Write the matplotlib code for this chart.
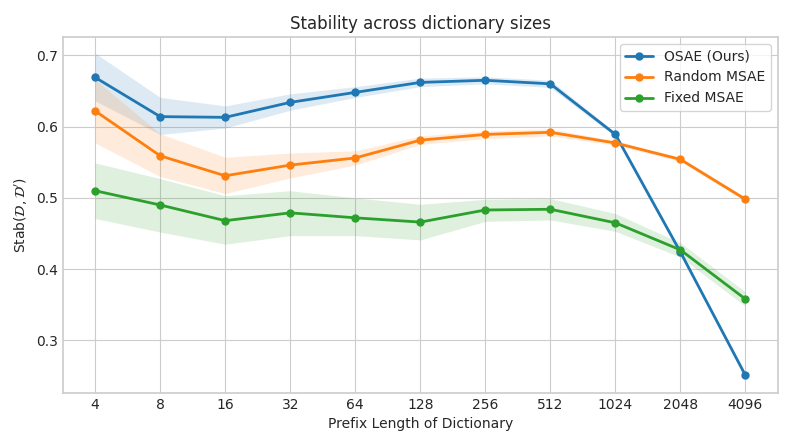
import matplotlib
matplotlib.use("Agg")
import matplotlib.pyplot as plt
import numpy as np

prefix_lengths = ["4", "8", "16", "32", "64", "128", "256", "512", "1024", "2048", "4096"]

osae_mean = [0.669, 0.614, 0.613, 0.634, 0.648, 0.662, 0.665, 0.660, 0.589, 0.424, 0.251]
osae_low = [0.636, 0.589, 0.598, 0.623, 0.641, 0.656, 0.660, 0.655, 0.586, 0.421, 0.249]
osae_high = [0.703, 0.641, 0.629, 0.646, 0.656, 0.668, 0.670, 0.665, 0.592, 0.427, 0.253]

rand_mean = [0.622, 0.559, 0.531, 0.546, 0.556, 0.581, 0.589, 0.592, 0.577, 0.554, 0.498]
rand_low = [0.577, 0.530, 0.506, 0.528, 0.546, 0.575, 0.583, 0.587, 0.574, 0.551, 0.495]
rand_high = [0.666, 0.590, 0.557, 0.563, 0.566, 0.587, 0.594, 0.597, 0.580, 0.557, 0.501]

fixed_mean = [0.510, 0.490, 0.468, 0.479, 0.472, 0.466, 0.483, 0.484, 0.465, 0.427, 0.358]
fixed_low = [0.471, 0.452, 0.435, 0.447, 0.447, 0.441, 0.467, 0.469, 0.453, 0.417, 0.348]
fixed_high = [0.549, 0.527, 0.503, 0.510, 0.500, 0.491, 0.498, 0.499, 0.478, 0.437, 0.368]

plt.style.use("seaborn-v0_8-whitegrid")
plt.rcParams["font.family"] = ["DejaVu Sans"]
plt.rcParams["axes.edgecolor"] = "0.8"
plt.rcParams["axes.linewidth"] = 1.2

fig, ax = plt.subplots(figsize=(7.93, 4.46), dpi=100)
x = np.arange(len(prefix_lengths))

series = [
    ("OSAE (Ours)", osae_mean, osae_low, osae_high, "#1f77b4"),
    ("Random MSAE", rand_mean, rand_low, rand_high, "#ff7f0e"),
    ("Fixed MSAE", fixed_mean, fixed_low, fixed_high, "#2ca02c"),
]
for label, mean, low, high, color in series:
    ax.plot(x, mean, marker="o", markersize=5, linewidth=2, color=color, label=label)
    ax.fill_between(x, low, high, color=color, alpha=0.15, linewidth=0)

ax.set_xticks(x)
ax.set_xticklabels(prefix_lengths)
ax.tick_params(labelsize=10, colors="0.15")
ax.set_xlabel("Prefix Length of Dictionary", fontsize=10)
ax.set_ylabel(r"Stab($\mathcal{D}, \mathcal{D}'$)", fontsize=10)
ax.set_title("Stability across dictionary sizes", fontsize=12)
ax.legend(loc="upper right", frameon=True, fontsize=10)

fig.subplots_adjust(left=0.079, right=0.981, top=0.917, bottom=0.119)
fig.savefig("out.png", dpi=100)
